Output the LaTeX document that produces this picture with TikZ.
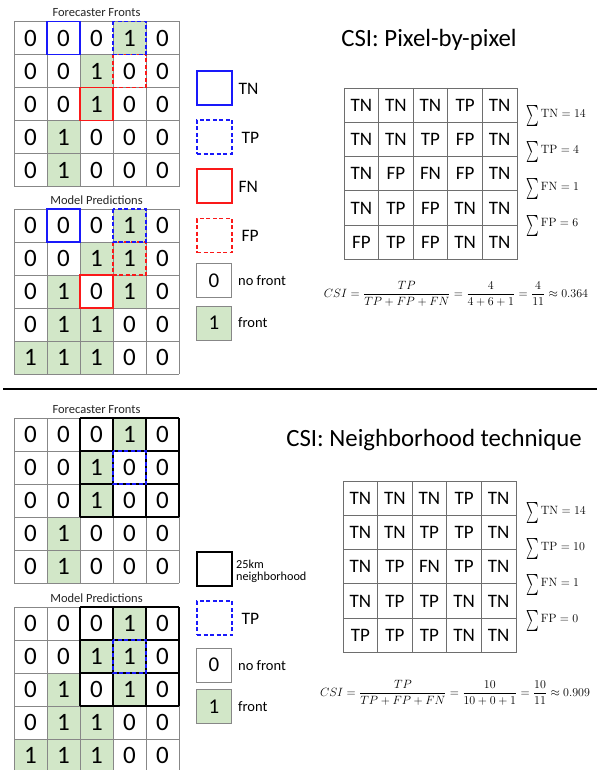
\documentclass[tikz,border=0pt]{standalone}
\usepackage[no-math]{fontspec}
\setmainfont{Carlito}
\definecolor{frontgreen}{RGB}{210,231,200}
\definecolor{gridgray}{RGB}{135,135,135}
\definecolor{tblgray}{RGB}{110,110,110}
\definecolor{tnblue}{RGB}{25,25,250}
\definecolor{fnred}{RGB}{250,25,25}
\tikzset{
  cellline/.style={draw=gridgray, line width=0.9pt},
  digit/.style={font=\fontsize{25}{25}\selectfont, inner sep=0pt, text=black},
  gridtitle/.style={font=\fontsize{12.5}{14}\selectfont, text=black!85, inner sep=0pt},
  tbltext/.style={font=\fontsize{19}{20}\selectfont, inner sep=0pt},
  tblline/.style={draw=tblgray, line width=0.9pt},
  sumtext/.style={anchor=west, inner sep=0pt, font=\fontsize{12.5}{14}\selectfont},
  formula/.style={font=\fontsize{12}{14}\selectfont, inner sep=0pt},
  bigtitle/.style={font=\fontsize{24.8}{26}\selectfont, inner sep=0pt},
  legbox/.style={minimum width=35pt, minimum height=34pt, inner sep=0pt, line width=1.4pt},
  legtext/.style={font=\fontsize{17.5}{18}\selectfont, anchor=west, inner sep=0pt},
  legsmall/.style={font=\fontsize{14.5}{16}\selectfont, anchor=west, inner sep=0pt},
  legtwo/.style={font=\fontsize{12.2}{14}\selectfont, anchor=west, inner sep=0pt, align=left},
  legdigit/.style={legbox, draw=gridgray, line width=1pt, font=\fontsize{21}{21}\selectfont},
  tnbox/.style={draw=tnblue, line width=1.5pt},
  tpbox/.style={draw=tnblue, line width=1.5pt, dash pattern=on 4pt off 2.5pt},
  fnbox/.style={draw=fnred, line width=1.5pt},
  fpbox/.style={draw=fnred, line width=1.5pt, dash pattern=on 4pt off 2.5pt},
  nbbox/.style={draw=black, line width=1.5pt},
}
\newcommand{\sumLine}[1]{\raisebox{-5pt}{\scalebox{1.2}[2.1]{$\textstyle\sum$}}\,$\mathrm{#1}$}
% #1 name, #2 x0, #3 y0, #4 values (row by row)
\newcommand{\frontGrid}[4]{%
  \begin{scope}[shift={(#2,#3)}]
  \foreach \v [count=\k from 0] in {#4} {
    \pgfmathtruncatemacro{\rr}{div(\k,5)}
    \pgfmathtruncatemacro{\cc}{mod(\k,5)}
    \ifnum\v=1 \fill[frontgreen] (\cc*33,\rr*33) rectangle ++(33,33);\fi
    \node[digit] (#1-\rr-\cc) at (\cc*33+16.5,\rr*33+16.5) {\v};
  }
  \foreach \i in {0,...,5} {
    \draw[cellline] (\i*33,0) -- (\i*33,165);
    \draw[cellline] (0,\i*33) -- (165,\i*33);
  }
  \end{scope}
}
% #1 style, #2 x0, #3 y0, #4 row, #5 col
\newcommand{\cellBox}[5]{%
  \draw[#1] (#2+#5*33,#3+#4*33) rectangle ++(33,33);
}
% neighborhood: rows 0-2, cols 2-4
\newcommand{\nbBlock}[2]{%
  \begin{scope}[shift={(#1,#2)}]
  \foreach \i in {0,...,3} {
    \draw[nbbox] (66+\i*33,0) -- (66+\i*33,99);
    \draw[nbbox] (66,\i*33) -- (165,\i*33);
  }
  \end{scope}
}
% #1 name, #2 x0, #3 y0, #4 values
\newcommand{\csiTable}[4]{%
  \begin{scope}[shift={(#2,#3)}]
  \foreach \v [count=\k from 0] in {#4} {
    \pgfmathtruncatemacro{\rr}{div(\k,5)}
    \pgfmathtruncatemacro{\cc}{mod(\k,5)}
    \node[tbltext] (#1-\rr-\cc) at (\cc*34.6+17.3,\rr*34.3+17.15) {\v};
  }
  \foreach \i in {0,...,5} {
    \draw[tblline] (\i*34.6,0) -- (\i*34.6,171.5);
    \draw[tblline] (0,\i*34.3) -- (173,\i*34.3);
  }
  \end{scope}
}
\begin{document}
\begin{tikzpicture}[x=1pt,y=-1pt]
\useasboundingbox (0,0) rectangle (597,770);
\fill[white] (0,0) rectangle (597,770);

% ===================== TOP HALF =====================
\node[gridtitle] (tFFt) at (96.5,12.5) {Forecaster Fronts};
\frontGrid{tFF}{14}{21.5}{0,0,0,1,0, 0,0,1,0,0, 0,0,1,0,0, 0,1,0,0,0, 0,1,0,0,0}
\cellBox{tnbox}{14}{21.5}{0}{1}
\cellBox{fnbox}{14}{21.5}{2}{2}
\cellBox{fpbox}{14}{21.5}{1}{3}
\cellBox{tpbox}{14}{21.5}{0}{3}

\node[gridtitle] (tMPt) at (96.5,200) {Model Predictions};
\frontGrid{tMP}{14}{209}{0,0,0,1,0, 0,0,1,1,0, 0,1,0,1,0, 0,1,1,0,0, 1,1,1,0,0}
\cellBox{tnbox}{14}{209}{0}{1}
\cellBox{fnbox}{14}{209}{2}{2}
\cellBox{fpbox}{14}{209}{1}{3}
\cellBox{tpbox}{14}{209}{0}{3}

% legend
\node[legbox, tnbox] (lTN) at (214.5,88) {};
\node[legtext] (lTNt) at (238.5,88.5) {TN};
\node[legbox, tpbox] (lTP) at (214.5,137) {};
\node[legtext] (lTPt) at (241.5,137.5) {TP};
\node[legbox, fnbox] (lFN) at (214.5,186) {};
\node[legtext] (lFNt) at (238.5,186.5) {FN};
\node[legbox, fpbox] (lFP) at (214.5,235.5) {};
\node[legtext] (lFPt) at (241.5,236) {FP};
\node[legdigit] (l0) at (214,280.5) {0};
\node[legsmall] (l0t) at (238,281) {no front};
\node[legdigit, fill=frontgreen] (l1) at (214,323) {1};
\node[legsmall] (l1t) at (238,323) {front};

% title & table
\node[bigtitle] (tTitle) at (429,40) {CSI: Pixel-by-pixel};
\csiTable{tT}{344}{88}{TN,TN,TN,TP,TN, TN,TN,TP,FP,TN, TN,FP,FN,FP,TN, TN,TP,FP,TN,TN, FP,TP,FP,TN,TN}
\node[sumtext] (tS1) at (526,116) {\sumLine{TN = 14}};
\node[sumtext] (tS2) at (526,152.5) {\sumLine{TP = 4}};
\node[sumtext] (tS3) at (526,189) {\sumLine{FN = 1}};
\node[sumtext] (tS4) at (526,225.5) {\sumLine{FP = 6}};
\node[formula] (tF) at (456,294) {$\displaystyle CSI = \frac{TP}{TP+FP+FN} = \frac{4}{4+6+1} = \frac{4}{11} \approx 0.364$};

% separator
\draw[line width=2.6pt] (3,389) -- (597,389);

% ===================== BOTTOM HALF =====================
\node[gridtitle] (bFFt) at (96.5,409.5) {Forecaster Fronts};
\frontGrid{bFF}{14}{418}{0,0,0,1,0, 0,0,1,0,0, 0,0,1,0,0, 0,1,0,0,0, 0,1,0,0,0}
\nbBlock{14}{418}
\cellBox{tpbox}{14}{418}{1}{3}

\node[gridtitle] (bMPt) at (96.5,598) {Model Predictions};
\frontGrid{bMP}{14}{607}{0,0,0,1,0, 0,0,1,1,0, 0,1,0,1,0, 0,1,1,0,0, 1,1,1,0,0}
\nbBlock{14}{607}
\cellBox{tpbox}{14}{607}{1}{3}

% legend
\node[legbox, nbbox] (lNB) at (214.5,569) {};
\node[legtwo] (lNBt) at (236,571) {25km\\[-2pt]neighborhood};
\node[legbox, tpbox] (lTP2) at (214.5,618) {};
\node[legtext] (lTP2t) at (241.5,618.5) {TP};
\node[legdigit] (l02) at (214,665) {0};
\node[legsmall] (l02t) at (238,665.5) {no front};
\node[legdigit, fill=frontgreen] (l12) at (214,706.5) {1};
\node[legsmall] (l12t) at (238,707) {front};

\node[bigtitle] (bTitle) at (434,440) {CSI: Neighborhood technique};
\csiTable{bT}{343}{481}{TN,TN,TN,TP,TN, TN,TN,TP,TP,TN, TN,TP,FN,TP,TN, TN,TP,TP,TN,TN, TP,TP,TP,TN,TN}
\node[sumtext] (bS1) at (526,513) {\sumLine{TN = 14}};
\node[sumtext] (bS2) at (526,549) {\sumLine{TP = 10}};
\node[sumtext] (bS3) at (526,585) {\sumLine{FN = 1}};
\node[sumtext] (bS4) at (526,621) {\sumLine{FP = 0}};
\node[formula] (bF) at (455,693) {$\displaystyle CSI = \frac{TP}{TP+FP+FN} = \frac{10}{10+0+1} = \frac{10}{11} \approx 0.909$};
\end{tikzpicture}
\end{document}
